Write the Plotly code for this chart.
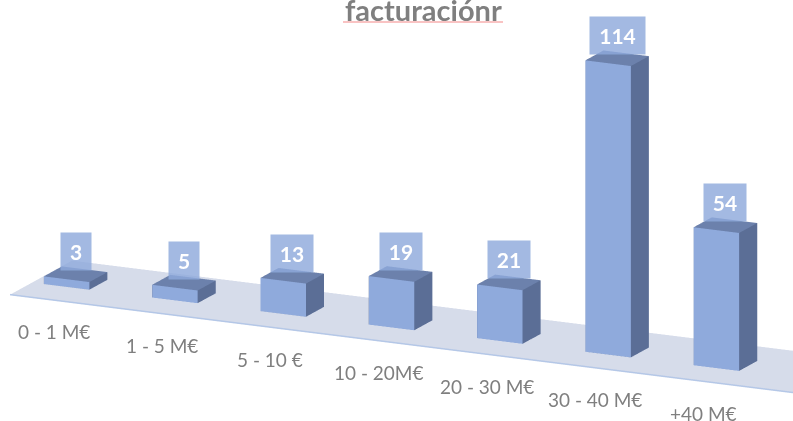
import numpy as np
import plotly.graph_objects as go

# ---- data -------------------------------------------------------------
categories = ["0 - 1 M€", "1 - 5 M€", "5 - 10 €", "10 - 20M€",
              "20 - 30 M€", "30 - 40 M€", "+40 M€"]
values = [3, 5, 13, 19, 21, 114, 54]
title_text = "facturaciónr"

# ---- styling ----------------------------------------------------------
FRONT = "#8FAADC"
SIDE = "#5B6E96"
TOP = "#6C81AC"
FLOOR = "#D6DCEA"
EDGE = "#B4C7E7"
GREY = "#7F7F7F"
FONT = "Lato"

BAR_W = 0.42          # bar width along the category axis
BAR_D = 0.35          # bar depth
FLOOR_D = 0.6         # half depth of the floor
X_RANGE = [-0.32, 7.0]
Y_RANGE = [-FLOOR_D, FLOOR_D]
Z_RANGE = [0, 120]
VALUE_PER_UNIT = 45.3  # value units per unit of horizontal length

# ---- bars as one mesh -------------------------------------------------
vx, vy, vz, I, J, K, fc = [], [], [], [], [], [], []
for idx, v in enumerate(values):
    x0, x1 = idx - BAR_W / 2, idx + BAR_W / 2
    y0, y1 = -BAR_D / 2, BAR_D / 2
    base = len(vx)
    corners = [(x0, y0, 0), (x1, y0, 0), (x1, y1, 0), (x0, y1, 0),
               (x0, y0, v), (x1, y0, v), (x1, y1, v), (x0, y1, v)]
    for cx, cy, cz in corners:
        vx.append(cx); vy.append(cy); vz.append(cz)
    faces = [((0, 1, 5), FRONT), ((0, 5, 4), FRONT),
             ((1, 2, 6), SIDE), ((1, 6, 5), SIDE),
             ((4, 5, 6), TOP), ((4, 6, 7), TOP),
             ((3, 2, 6), SIDE), ((3, 6, 7), SIDE),
             ((0, 3, 7), SIDE), ((0, 7, 4), SIDE),
             ((0, 1, 2), TOP), ((0, 2, 3), TOP)]
    for (a, b, c), col in faces:
        I.append(base + a); J.append(base + b); K.append(base + c)
        fc.append(col)

flat = dict(ambient=1, diffuse=0, specular=0, roughness=1, fresnel=0)

bars = go.Mesh3d(x=vx, y=vy, z=vz, i=I, j=J, k=K, facecolor=fc,
                 flatshading=True, lighting=flat, hoverinfo="skip",
                 showscale=False)

floor = go.Mesh3d(x=[X_RANGE[0], X_RANGE[1], X_RANGE[1], X_RANGE[0]],
                  y=[-FLOOR_D, -FLOOR_D, FLOOR_D, FLOOR_D],
                  z=[0, 0, 0, 0], i=[0, 0], j=[1, 2], k=[2, 3],
                  color=FLOOR, flatshading=True, lighting=flat,
                  hoverinfo="skip")

edge = go.Scatter3d(x=X_RANGE, y=[-FLOOR_D, -FLOOR_D], z=[0, 0],
                    mode="lines", line=dict(color=EDGE, width=3),
                    hoverinfo="skip", showlegend=False)

fig = go.Figure([floor, edge, bars])

# ---- labels -----------------------------------------------------------
ann = []
for idx, v in enumerate(values):
    txt = str(v)
    ann.append(dict(x=idx, y=0, z=v, text=f"<b>{txt}</b>",
                    showarrow=False, yanchor="bottom", xanchor="center",
                    yshift=3,
                    bgcolor="rgba(143,170,220,0.82)", borderpad=0,
                    width=round(12.2 * len(txt)) + 18, height=37,
                    font=dict(family=FONT, size=21, color="white")))
for idx, cat in enumerate(categories):
    ann.append(dict(x=idx, y=-FLOOR_D, z=0, text=cat, showarrow=False,
                    xanchor="center", yanchor="middle", xshift=9,
                    yshift=-33,
                    font=dict(family=FONT, size=19, color=GREY)))

# ---- camera (orthographic) --------------------------------------------
k = 0.57
spans = [X_RANGE[1] - X_RANGE[0], Y_RANGE[1] - Y_RANGE[0],
         (Z_RANGE[1] - Z_RANGE[0]) / VALUE_PER_UNIT]
mids = [(X_RANGE[0] + X_RANGE[1]) / 2, 0.0, spans[2] / 2]
theta, phi, dist = np.radians(25.5), np.radians(15.2), 3.0
direction = np.array([np.sin(theta) * np.cos(phi),
                      -np.cos(theta) * np.cos(phi), np.sin(phi)])
look_at = np.array([3.046, -BAR_D / 2, 1.016])
center = (look_at - np.array(mids)) * k
eye = center + dist * direction

axis = dict(visible=False, showbackground=False, showgrid=False,
            zeroline=False, showspikes=False)
fig.update_layout(
    width=793, height=421,
    margin=dict(l=0, r=0, t=0, b=0),
    paper_bgcolor="white",
    showlegend=False,
    scene=dict(
        domain=dict(x=[0, 1], y=[0, 1]),
        xaxis=dict(axis, range=X_RANGE),
        yaxis=dict(axis, range=Y_RANGE),
        zaxis=dict(axis, range=Z_RANGE),
        aspectmode="manual",
        aspectratio=dict(x=spans[0] * k, y=spans[1] * k, z=spans[2] * k),
        camera=dict(eye=dict(x=eye[0], y=eye[1], z=eye[2]),
                    center=dict(x=center[0], y=center[1], z=center[2]),
                    up=dict(x=0, y=0, z=1),
                    projection=dict(type="orthographic")),
        annotations=ann,
        bgcolor="white",
    ),
    annotations=[dict(text=f"<b>{title_text}</b>", xref="paper", yref="paper",
                      x=423 / 793, y=1 - 10 / 421, xanchor="center",
                      yanchor="middle", showarrow=False,
                      font=dict(family=FONT, size=29, color=GREY))],
    shapes=[dict(type="line", xref="paper", yref="paper",
                 x0=343 / 793, x1=503 / 793, y0=1 - 22 / 421, y1=1 - 22 / 421,
                 line=dict(color="rgba(240,120,120,0.6)", width=1.5))],
)

fig.write_html("out.html")
